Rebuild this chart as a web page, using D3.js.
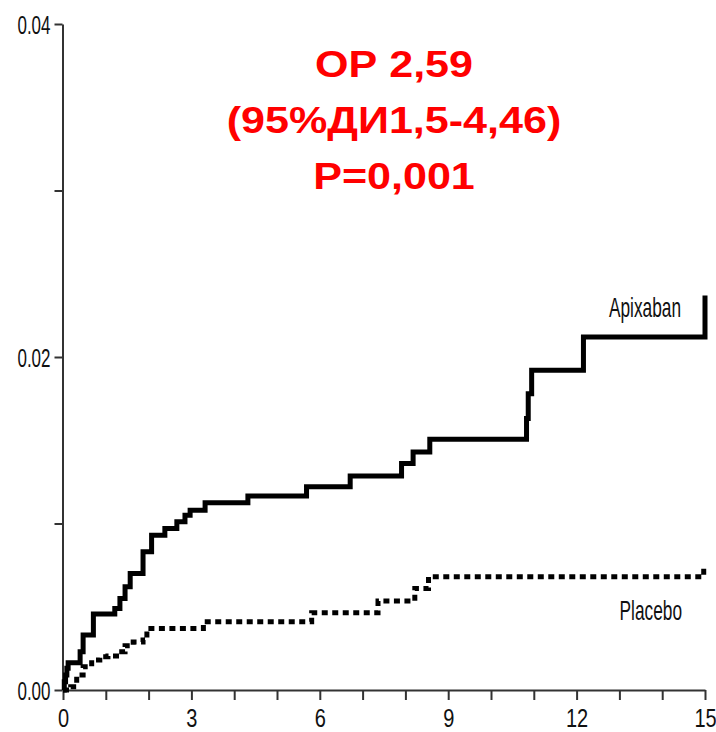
<!DOCTYPE html>
<html>
<head>
<meta charset="utf-8">
<script src="https://cdn.jsdelivr.net/npm/d3@7"></script>
<style>
  html, body { margin: 0; padding: 0; background: #fff; }
  svg { display: block; }
</style>
</head>
<body>
<svg id="chart" width="716" height="732"></svg>
<script>
// ------ data (months, cumulative risk) ------
var apixabanTime = [0, 0.03, 0.06, 0.09, 0.12, 0.40, 0.47, 0.71, 1.21, 1.33, 1.45, 1.57, 1.87, 2.07, 2.38, 2.66, 2.85, 2.97, 3.32, 4.32, 5.69, 6.71, 7.91, 8.18, 8.57, 10.83, 10.87, 10.95, 12.16, 15]
var apixabanRisk = [0, 0.0005, 0.0009, 0.0013, 0.00164, 0.0023, 0.0033, 0.00456, 0.0049, 0.0055, 0.0062, 0.0070, 0.0083, 0.0093, 0.0097, 0.0101, 0.0105, 0.0108, 0.01125, 0.01165, 0.0122, 0.01285, 0.0136, 0.0143, 0.01506, 0.0163, 0.0178, 0.0192, 0.0212, 0.0237]

var placeboTime = [0, 0.18, 0.32, 0.47, 0.67, 0.86, 1.05, 1.25, 1.45, 1.64, 1.87, 1.96, 3.28, 5.81, 7.36, 8.22, 8.54, 14.97]
var placeboRisk = [0, 0.0002, 0.0009, 0.0014, 0.0018, 0.0020, 0.00204, 0.0023, 0.00266, 0.00288, 0.0030, 0.0037, 0.0041, 0.00464, 0.00535, 0.0061, 0.0068, 0.0074]

var monthTicks = d3.range(0, 16)
var monthLabels = [0, 3, 6, 9, 12, 15]
var riskTicks = [0, 0.01, 0.02, 0.03, 0.04]
var riskLabels = [0, 0.02, 0.04]

var titleLines = ['ОР 2,59', '(95%ДИ1,5-4,46)', 'P=0,001']

// ------ scales ------
var x = d3.scaleLinear().domain([0, 15]).range([63, 705])
var y = d3.scaleLinear().domain([0, 0.04]).range([690, 24])

var svg = d3.select('#chart')
var font = '"Liberation Sans", Arial, sans-serif'

// ------ axes ------
var yAxis = svg.append('g')
  .attr('transform', 'translate(62.5,0)')
  .call(d3.axisLeft(y)
    .tickValues(riskTicks)
    .tickSize(8)
    .tickSizeOuter(0)
    .tickFormat(function (d) { return riskLabels.indexOf(d) >= 0 ? d3.format('.2f')(d) : '' }))

var xAxis = svg.append('g')
  .attr('transform', 'translate(0,690)')
  .call(d3.axisBottom(x)
    .tickValues(monthTicks)
    .tickSize(10)
    .tickSizeOuter(0)
    .tickFormat(function (d) { return monthLabels.indexOf(d) >= 0 ? d : '' }))

svg.selectAll('.domain, .tick line')
  .attr('stroke', '#333')
  .attr('stroke-width', 2)

// tick labels in the picture are a tall, narrow face: squeeze them
yAxis.selectAll('text')
  .attr('font-family', font)
  .attr('font-size', 25)
  .attr('fill', '#111')
  .attr('x', -12 / 0.68)
  .attr('dy', '0.36em')
  .attr('transform', 'scale(0.68,1)')

xAxis.selectAll('text')
  .attr('font-family', font)
  .attr('font-size', 25)
  .attr('fill', '#111')
  .attr('y', 19)
  .attr('x', 0)
  .attr('transform', 'scale(0.8,1)')

// ------ step curves ------
var renderPath = d3.line()
  .x(function (d) { return x(d[0]) })
  .y(function (d) { return y(d[1]) })
  .curve(d3.curveStepAfter)

svg.append('path')
  .datum(d3.zip(apixabanTime, apixabanRisk))
  .attr('d', renderPath)
  .attr('fill', 'none')
  .attr('stroke', '#000')
  .attr('stroke-width', 5)

svg.append('path')
  .datum(d3.zip(placeboTime, placeboRisk))
  .attr('d', renderPath)
  .attr('fill', 'none')
  .attr('stroke', '#000')
  .attr('stroke-width', 5)
  .attr('stroke-dasharray', '6,4.5')

// ------ series labels ------
function squeezedLabel (text, px, py) {
  svg.append('g')
    .attr('transform', 'translate(' + px + ',' + py + ') scale(0.64,1)')
    .append('text')
    .attr('text-anchor', 'end')
    .attr('font-family', font)
    .attr('font-size', 27)
    .attr('fill', '#111')
    .text(text)
}
squeezedLabel('Apixaban', 681, 317)
squeezedLabel('Placebo', 682, 620)

// ------ red annotation ------
var title = svg.append('g')
  .attr('transform', 'translate(394,0) scale(1.18,1)')

title.selectAll('text')
  .data(titleLines)
  .enter().append('text')
  .attr('x', 0)
  .attr('y', function (d, i) { return 77 + i * 56 })
  .attr('text-anchor', 'middle')
  .attr('font-family', font)
  .attr('font-weight', 'bold')
  .attr('font-size', 36.5)
  .attr('fill', '#ff0000')
  .text(function (d) { return d })
</script>
</body>
</html>
